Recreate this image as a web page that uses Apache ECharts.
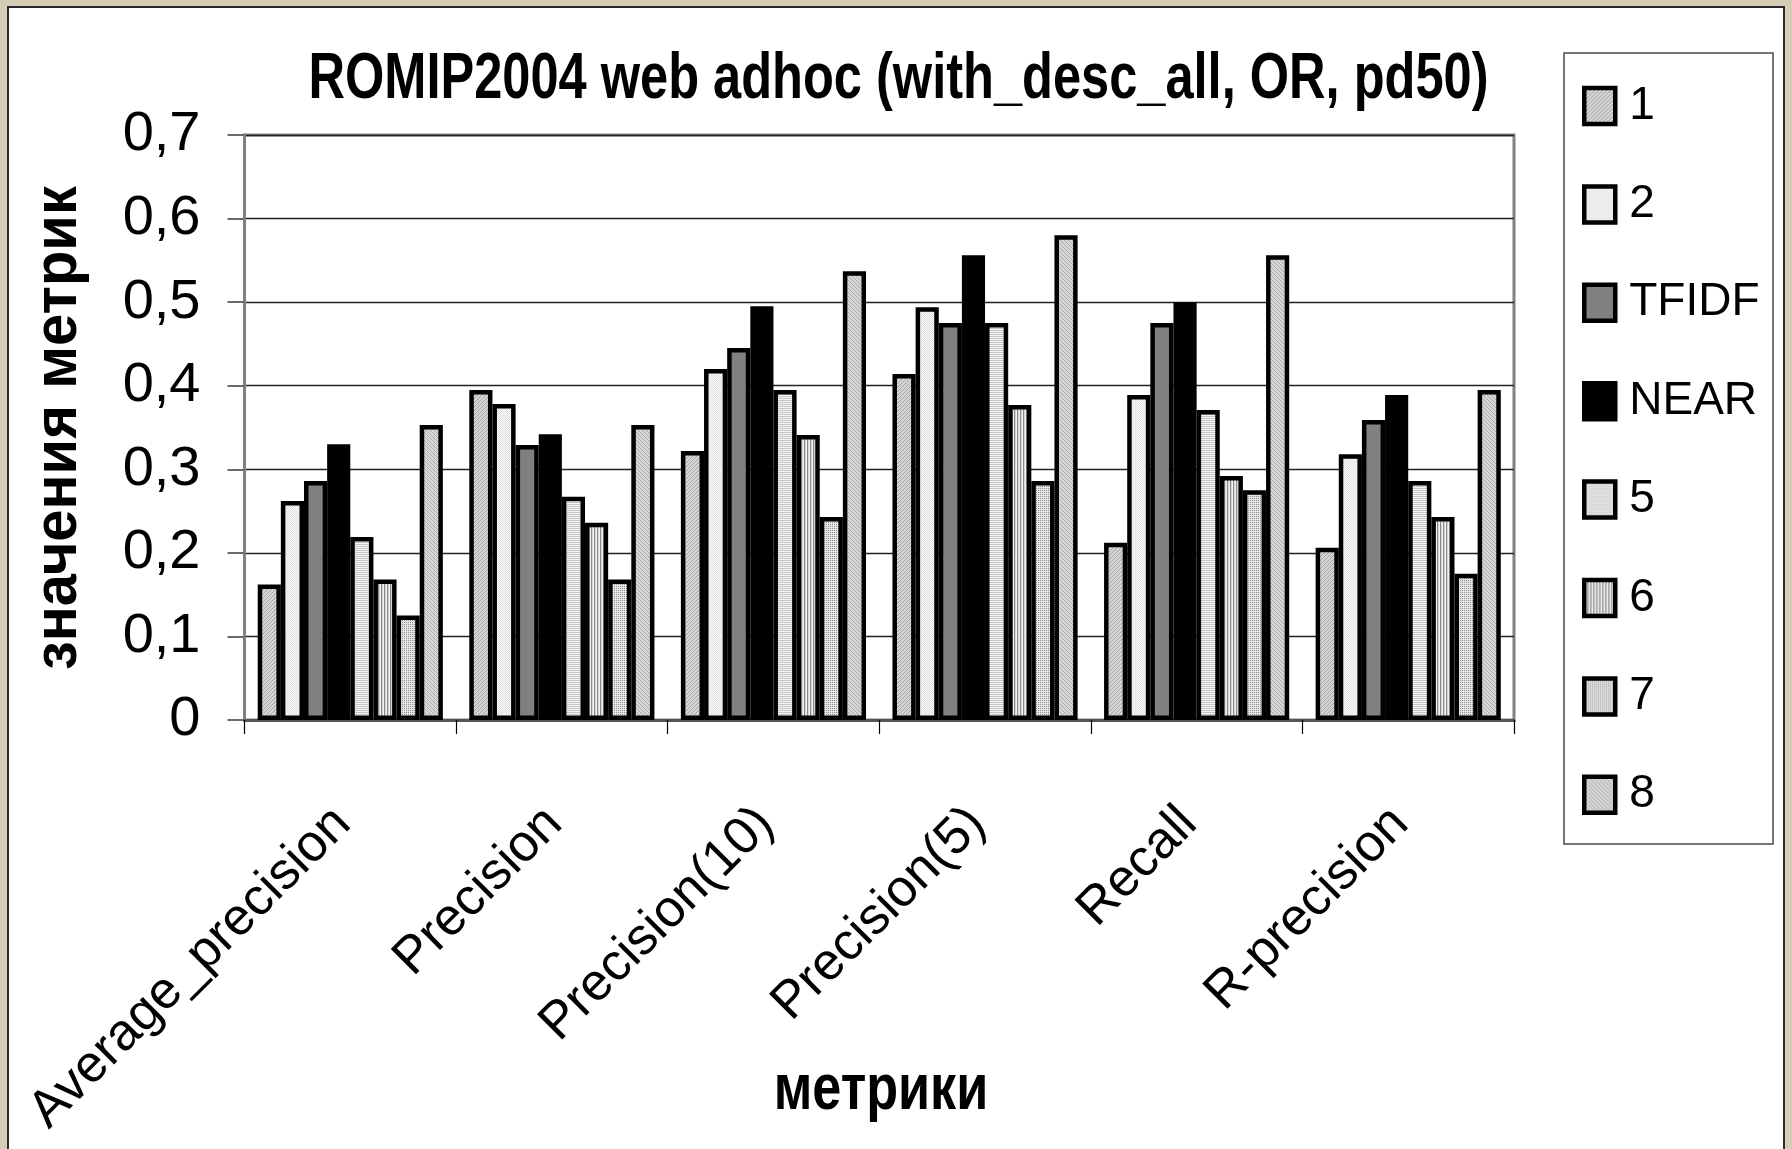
<!DOCTYPE html>
<html>
<head>
<meta charset="utf-8">
<script src="https://cdn.jsdelivr.net/npm/echarts@6/dist/echarts.min.js"></script>
<style>
html,body{margin:0;padding:0;background:#d6cdb6;}
#chart{width:1792px;height:1149px;}
</style>
</head>
<body>
<div id="chart"></div>
<script>
// ---- data ----
const categories = ['Average_precision', 'Precision', 'Precision(10)', 'Precision(5)', 'Recall', 'R-precision'];
const seriesNames = ['1', '2', 'TFIDF', 'NEAR', '5', '6', '7', '8'];
const s1    = [0.162, 0.395, 0.322, 0.414, 0.212, 0.206];
const s2    = [0.262, 0.378, 0.420, 0.494, 0.389, 0.318];
const tfidf = [0.286, 0.329, 0.445, 0.475, 0.475, 0.359];
const near  = [0.330, 0.342, 0.495, 0.556, 0.500, 0.389];
const s5    = [0.219, 0.267, 0.395, 0.475, 0.371, 0.286];
const s6    = [0.168, 0.236, 0.341, 0.377, 0.292, 0.243];
const s7    = [0.125, 0.168, 0.243, 0.286, 0.275, 0.175];
const s8    = [0.353, 0.353, 0.537, 0.580, 0.556, 0.395];
const yTicks = [0, 0.1, 0.2, 0.3, 0.4, 0.5, 0.6, 0.7];
const titleText = 'ROMIP2004 web adhoc (with_desc_all, OR, pd50)';
const yName = 'значения метрик';
const xName = 'метрики';

// ---- fill patterns (Excel-like textures) ----
function makePattern(size, fn) {
  const c = document.createElement('canvas');
  c.width = size; c.height = size;
  const ctx = c.getContext('2d');
  for (let y = 0; y < size; y++) {
    for (let x = 0; x < size; x++) {
      ctx.fillStyle = fn(x, y);
      ctx.fillRect(x, y, 1, 1);
    }
  }
  return { image: c, repeat: 'repeat' };
}
const fills = [
  makePattern(4, (x, y) => ((x + y) % 4 === 0 ? '#a6a6a6' : '#d4d4d4')),
  makePattern(4, (x, y) => ((x + y) % 2 === 0 ? '#e2e2e2' : '#f7f7f7')),
  '#808080',
  '#000000',
  makePattern(4, (x, y) => (y % 2 === 0 ? '#c6c6c6' : '#f4f4f4')),
  makePattern(3, (x, y) => (x % 3 === 0 ? '#8a8a8a' : (x % 3 === 1 ? '#d6d6d6' : '#f2f2f2'))),
  makePattern(4, (x, y) => ((x % 2 === 0 && y % 2 === 0) ? '#8e8e8e' : '#e6e6e6')),
  makePattern(4, (x, y) => ((x - y + 8) % 4 === 0 ? '#acacac' : '#d6d6d6'))
];
const seriesData = [s1, s2, tfidf, near, s5, s6, s7, s8];

const FONT = "'Liberation Sans', Arial, sans-serif";

const chart = echarts.init(document.getElementById('chart'), null, { renderer: 'canvas' });
const option = {
  backgroundColor: '#d6cdb6',
  animation: false,
  graphic: [
    { type: 'rect', z: -10, shape: { x: 8, y: 7, width: 1776, height: 1150 },
      style: { fill: '#ffffff', stroke: '#2a2a2a', lineWidth: 2 } },
    { type: 'rect', z: -9, shape: { x: 1564, y: 53, width: 209, height: 791 },
      style: { fill: '#ffffff', stroke: '#4a4a4a', lineWidth: 1.5 } },
    // chart title (condensed like the original)
    { type: 'text', z: 10, x: 898.5, y: 80, scaleX: 0.79,
      style: { text: titleText, x: 0, y: 0, align: 'center', verticalAlign: 'middle',
               fontFamily: FONT, fontWeight: 'bold', fontSize: 64, fill: '#000' } },
    // y axis title
    { type: 'text', z: 10, x: 58.5, y: 428, rotation: Math.PI / 2, scaleX: 0.935,
      style: { text: yName, x: 0, y: 0, align: 'center', verticalAlign: 'middle',
               fontFamily: FONT, fontWeight: 'bold', fontSize: 62, fill: '#000' } },
    // x axis title
    { type: 'text', z: 10, x: 881, y: 1091, scaleX: 0.815,
      style: { text: xName, x: 0, y: 0, align: 'center', verticalAlign: 'middle',
               fontFamily: FONT, fontWeight: 'bold', fontSize: 64, fill: '#000' } }
  ],
  legend: {
    orient: 'vertical',
    left: 1582,
    top: 79,
    itemWidth: 31,
    itemHeight: 36,
    itemGap: 44.4,
    icon: 'rect',
    padding: 0,
    itemStyle: { borderColor: '#000', borderWidth: 4.5 },
    textStyle: { fontFamily: FONT, fontSize: 46, color: '#000', lineHeight: 38, padding: [0, 0, 16, 9] },
    data: seriesNames
  },
  grid: {
    left: 244.5, top: 135, width: 1269.5, height: 585,
    containLabel: false,
    outerBoundsMode: 'none',
    show: true, borderColor: '#808080', borderWidth: 3, backgroundColor: 'transparent'
  },
  xAxis: {
    type: 'category',
    data: categories,
    axisLine: { show: true, lineStyle: { color: '#555', width: 3 } },
    axisTick: { show: true, alignWithLabel: false, length: 14, lineStyle: { color: '#000', width: 1.2 } },
    axisLabel: { rotate: 45, margin: 88, interval: 0, fontFamily: FONT, fontSize: 52, color: '#000',
                 padding: [0, 11, 0, 0] }
  },
  yAxis: {
    type: 'value',
    min: 0, max: 0.7, interval: 0.1,
    axisLine: { show: true, lineStyle: { color: '#808080', width: 3 } },
    axisTick: { show: true, length: 17, lineStyle: { color: '#6a6a6a', width: 2 } },
    splitLine: { show: true, lineStyle: { color: '#222', width: 1.3 } },
    axisLabel: {
      margin: 44, fontFamily: FONT, fontSize: 56, color: '#000', padding: [0, 0, 8, 0],
      formatter: function (v) {
        const t = yTicks.find(k => Math.abs(k - v) < 1e-9);
        return t === 0 ? '0' : String(t.toFixed(1)).replace('.', ',');
      }
    }
  },
  series: seriesNames.map((n, i) => ({
    name: n,
    type: 'bar',
    data: seriesData[i],
    barGap: '0%',
    barCategoryGap: '12.5%',
    itemStyle: { color: fills[i], borderColor: '#000', borderWidth: 4.5 },
    emphasis: { disabled: true }
  }))
};
chart.setOption(option);
</script>
</body>
</html>
